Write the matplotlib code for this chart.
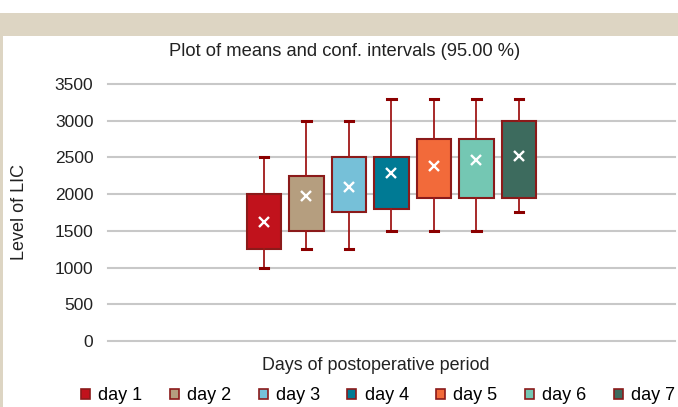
import matplotlib
matplotlib.use("Agg")
import matplotlib.pyplot as plt
from matplotlib.patches import Rectangle, Patch

plt.rcParams['font.family'] = ['Liberation Sans', 'DejaVu Sans']

days = ['day 1', 'day 2', 'day 3', 'day 4', 'day 5', 'day 6', 'day 7']
box_low = [1250, 1500, 1750, 1800, 1950, 1950, 1950]
box_high = [2000, 2250, 2500, 2500, 2750, 2750, 3000]
whisker_low = [1000, 1250, 1250, 1500, 1500, 1500, 1750]
whisker_high = [2500, 3000, 3000, 3300, 3300, 3300, 3300]
means = [1625, 1975, 2100, 2290, 2385, 2465, 2520]
colors = ['#c1121c', '#b59e7f', '#76c0d8', '#007a94', '#f26a3a', '#74c7b3', '#3d6b5e']
yticks = [0, 500, 1000, 1500, 2000, 2500, 3000, 3500]

W, H = 678, 407
fig = plt.figure(figsize=(W / 100, H / 100), dpi=100)
fig.patch.set_facecolor('white')

beige = '#ddd5c3'
fig.patches.append(Rectangle((0, 1 - 36 / H), 1, 23 / H, transform=fig.transFigure,
                             facecolor=beige, edgecolor='none', zorder=0))
fig.patches.append(Rectangle((0, 0), 3 / W, 1 - 13 / H, transform=fig.transFigure,
                             facecolor=beige, edgecolor='none', zorder=0))

ax = fig.add_axes([108 / W, 1 - 341 / H, (675 - 108) / W, (341 - 84) / H])
ax.set_facecolor('none')

stats = []
for i in range(len(days)):
    stats.append(dict(label=days[i], med=means[i], q1=box_low[i], q3=box_high[i],
                      whislo=whisker_low[i], whishi=whisker_high[i], mean=means[i], fliers=[]))

positions = list(range(1, len(days) + 1))
bp = ax.bxp(stats, positions=positions, widths=0.82, patch_artist=True, showmeans=True,
            showfliers=False, capwidths=0.2,
            boxprops=dict(edgecolor='#8b1a1a', linewidth=1.5),
            whiskerprops=dict(color='#a01818', linewidth=1.3),
            capprops=dict(color='#8b0000', linewidth=2.2),
            medianprops=dict(linewidth=0),
            meanprops=dict(marker='x', markeredgecolor='white', markerfacecolor='white',
                           markersize=7, markeredgewidth=1.7))
for patch, c in zip(bp['boxes'], colors):
    patch.set_facecolor(c)

half = (675 - 108) / 2 / 42.5
ax.set_xlim(4 - half, 4 + half)
ax.set_ylim(0, 3500)
ax.set_yticks(yticks)
ax.set_yticklabels([str(v) for v in yticks], fontsize=12.5, color='#222222')
ax.set_xticks([])
ax.tick_params(axis='y', length=0, pad=10.5)
for s in ax.spines.values():
    s.set_visible(False)
ax.yaxis.grid(True, color='#c8c8c8', linewidth=1.5)
ax.set_axisbelow(True)
for gl in ax.get_ygridlines():
    gl.set_clip_on(False)

fig.text(345 / W, 1 - 52 / H, 'Plot of means and conf. intervals (95.00 %)',
         ha='center', va='center', fontsize=13.2, color='#222222')
fig.text(376 / W, 1 - 365 / H, 'Days of postoperative period',
         ha='center', va='center', fontsize=12.9, color='#222222')
fig.text(20 / W, 1 - 212 / H, 'Level of LIC', rotation=90,
         ha='center', va='center', fontsize=13, color='#222222')

handles = [Patch(facecolor=c, edgecolor='#8b1a1a', linewidth=1.2) for c in colors]
fig.legend(handles, days, loc='center', bbox_to_anchor=(378 / W, 1 - 396 / H), ncol=7,
           frameon=False, fontsize=13, handlelength=0.5, handleheight=0.5,
           handletextpad=0.45, columnspacing=1.52, borderaxespad=0, borderpad=0)

fig.savefig('out.png', dpi=100, facecolor='white')
